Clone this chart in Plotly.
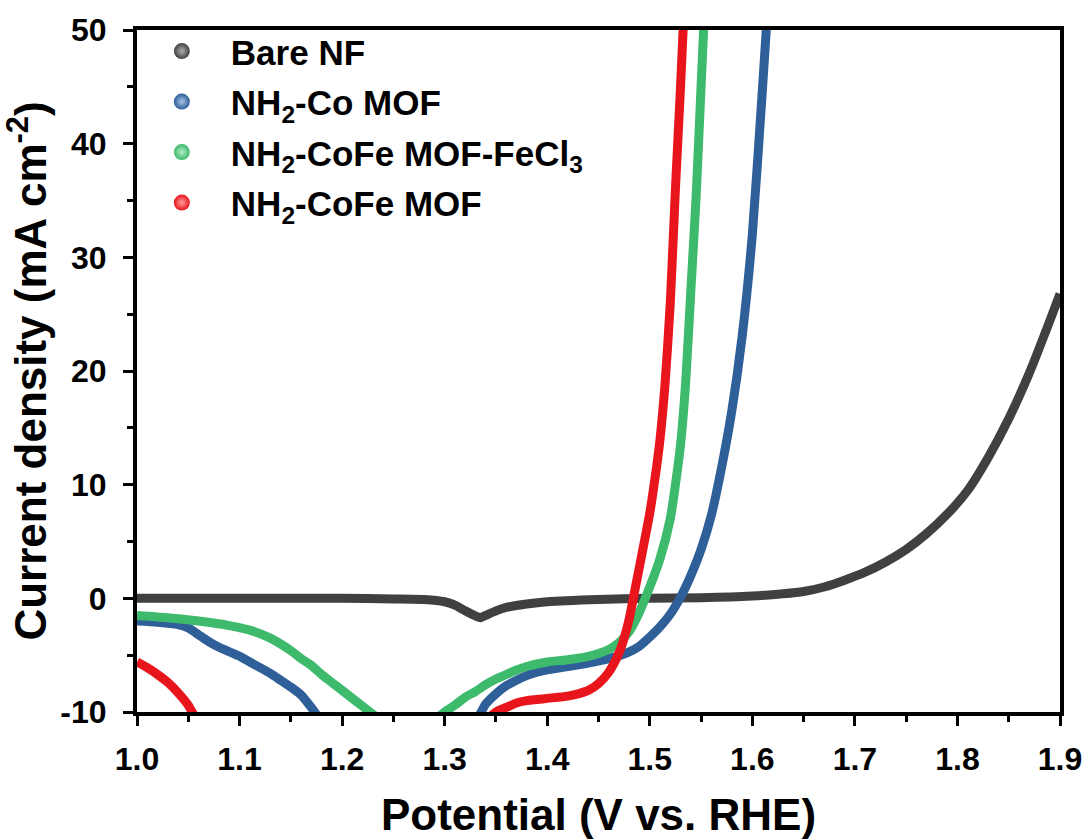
import plotly.graph_objects as go

# ---------------- data ----------------
bare_x = [1.00, 1.05, 1.10, 1.15, 1.20, 1.25, 1.28, 1.30, 1.31, 1.32, 1.33, 1.335, 1.34, 1.35, 1.36,
          1.38, 1.40, 1.45, 1.50, 1.55, 1.60, 1.63, 1.65, 1.67, 1.69, 1.71, 1.73, 1.75, 1.77, 1.79,
          1.81, 1.83, 1.85, 1.87, 1.89, 1.90]
bare_y = [0.0, 0.0, 0.0, 0.0, 0.0, -0.05, -0.1, -0.3, -0.6, -1.1, -1.55, -1.7, -1.5, -1.1, -0.8,
          -0.5, -0.3, -0.1, 0.0, 0.05, 0.2, 0.4, 0.6, 1.0, 1.6, 2.3, 3.2, 4.3, 5.7, 7.4,
          9.5, 12.4, 15.8, 19.8, 24.4, 26.8]

co_x = [1.00, 1.02, 1.04, 1.05, 1.06, 1.07, 1.08, 1.09, 1.10, 1.11, 1.12, 1.13, 1.14, 1.15, 1.16,
        1.17, 1.18, 1.25, 1.33, 1.34, 1.35, 1.36, 1.37, 1.38, 1.39, 1.40, 1.42, 1.44, 1.46, 1.48,
        1.49, 1.50, 1.51, 1.52, 1.53, 1.54, 1.55, 1.56, 1.57, 1.58, 1.59, 1.60, 1.61, 1.615]
co_y = [-2.0, -2.1, -2.3, -2.6, -3.2, -3.8, -4.3, -4.7, -5.1, -5.6, -6.1, -6.6, -7.2, -7.8, -8.5,
        -9.6, -10.8, -16.0, -10.8, -9.3, -8.4, -7.7, -7.2, -6.8, -6.5, -6.3, -6.0, -5.7, -5.3, -4.7,
        -4.2, -3.4, -2.5, -1.4, 0.1, 2.0, 4.3, 7.3, 11.5, 16.5, 23.0, 32.0, 45.0, 52.0]

fecl_x = [1.00, 1.03, 1.06, 1.09, 1.11, 1.13, 1.15, 1.16, 1.17, 1.18, 1.19, 1.20, 1.21, 1.22, 1.23,
          1.24, 1.27, 1.29, 1.30, 1.31, 1.32, 1.33, 1.34, 1.35, 1.36, 1.37, 1.38, 1.40, 1.42, 1.44,
          1.46, 1.47, 1.48, 1.49, 1.50, 1.51, 1.52, 1.525, 1.53, 1.535, 1.54, 1.545, 1.55, 1.553]
fecl_y = [-1.5, -1.7, -2.0, -2.4, -2.8, -3.5, -4.6, -5.3, -5.9, -6.7, -7.4, -8.1, -8.8, -9.5, -10.2,
          -11.0, -14.0, -10.8, -10.0, -9.4, -8.7, -8.2, -7.6, -7.1, -6.7, -6.3, -6.0, -5.6, -5.4, -5.1,
          -4.5, -3.9, -2.9, -1.2, 1.0, 3.5, 7.0, 10.0, 13.5, 19.0, 27.0, 35.0, 45.0, 51.0]

cofe_x = [1.00, 1.01, 1.02, 1.03, 1.04, 1.05, 1.055, 1.06, 1.20, 1.34, 1.35, 1.36, 1.37, 1.38, 1.39,
          1.40, 1.42, 1.43, 1.44, 1.45, 1.46, 1.47, 1.475, 1.48, 1.485, 1.49, 1.50, 1.505, 1.51, 1.515,
          1.52, 1.525, 1.53, 1.533]
cofe_y = [-5.6, -6.1, -6.7, -7.4, -8.3, -9.4, -10.2, -11.0, -25.0, -10.8, -10.0, -9.6, -9.2, -9.0, -8.9,
          -8.8, -8.6, -8.4, -8.1, -7.5, -6.5, -4.8, -3.5, -1.8, 0.5, 2.8, 7.5, 10.5, 14.0, 19.0,
          26.0, 36.0, 45.0, 51.0]

names = ["Bare NF", "NH<sub>2</sub>-Co MOF", "NH<sub>2</sub>-CoFe MOF-FeCl<sub>3</sub>", "NH<sub>2</sub>-CoFe MOF"]
colors = ["#404040", "#2f5f99", "#3dba6b", "#e8161c"]
highlights = ["#b0b0b0", "#a9c3e6", "#b5ecc8", "#ff9c9c"]

x_ticks = [1.0, 1.1, 1.2, 1.3, 1.4, 1.5, 1.6, 1.7, 1.8, 1.9]
x_ticktext = ["1.0", "1.1", "1.2", "1.3", "1.4", "1.5", "1.6", "1.7", "1.8", "1.9"]
x_minor = [1.05, 1.15, 1.25, 1.35, 1.45, 1.55, 1.65, 1.75, 1.85]
y_ticks = [-10, 0, 10, 20, 30, 40, 50]
y_ticktext = ["-10", "0", "10", "20", "30", "40", "50"]
y_minor = [-5, 5, 15, 25, 35, 45]

FONT = "Liberation Sans, Arial, sans-serif"

fig = go.Figure()
series = [(bare_x, bare_y), (co_x, co_y), (fecl_x, fecl_y), (cofe_x, cofe_y)]
for (xs, ys), c in zip(series, colors):
    fig.add_trace(go.Scatter(x=xs, y=ys, mode="lines", showlegend=False,
                             line=dict(color=c, width=9, shape="spline", smoothing=0.6),
                             hoverinfo="skip"))
# legend entries (sphere-like markers)
for i, (n, c, h) in enumerate(zip(names, colors, highlights)):
    fig.add_trace(go.Scatter(x=[None], y=[None], mode="markers", name=n, legendgroup=f"g{i}",
                             marker=dict(size=16, color=c, gradient=dict(type="radial", color=h))))

axis_common = dict(showline=True, linecolor="black", linewidth=4, mirror=True,
                   ticks="outside", ticklen=10, tickwidth=3, tickcolor="black",
                   showgrid=False, zeroline=False, automargin=False,
                   tickfont=dict(family=FONT, size=32, color="black", weight="bold"))

fig.update_xaxes(range=[1.0, 1.9], tickmode="array", tickvals=x_ticks, ticktext=x_ticktext,
                 minor=dict(tickmode="array", tickvals=x_minor, ticks="outside", ticklen=6,
                            tickwidth=3, tickcolor="black"),
                 title=dict(text="Potential (V vs. RHE)", standoff=24,
                            font=dict(family=FONT, size=44, color="black", weight="bold")),
                 ticklabelstandoff=6,
                 **axis_common)
fig.update_yaxes(range=[-10, 50], tickmode="array", tickvals=y_ticks, ticktext=y_ticktext,
                 minor=dict(tickmode="array", tickvals=y_minor, ticks="outside", ticklen=6,
                            tickwidth=3, tickcolor="black"),
                 title=dict(text="Current density (mA cm<sup>-2</sup>)", standoff=6,
                            font=dict(family=FONT, size=44, color="black", weight="bold")),
                 ticklabelstandoff=10,
                 **axis_common)

fig.update_layout(
    width=1091, height=840,
    margin=dict(l=137, r=31, t=30, b=128),
    paper_bgcolor="white", plot_bgcolor="white",
    font=dict(family=FONT, color="black", weight="bold"),
    legend=dict(x=-0.0045, y=1.012, xanchor="left", yanchor="top",
                bgcolor="rgba(0,0,0,0)", borderwidth=0, itemwidth=88,
                font=dict(family=FONT, size=35, color="black", weight="bold"),
                tracegroupgap=2),
)

fig.write_html("out.html")
